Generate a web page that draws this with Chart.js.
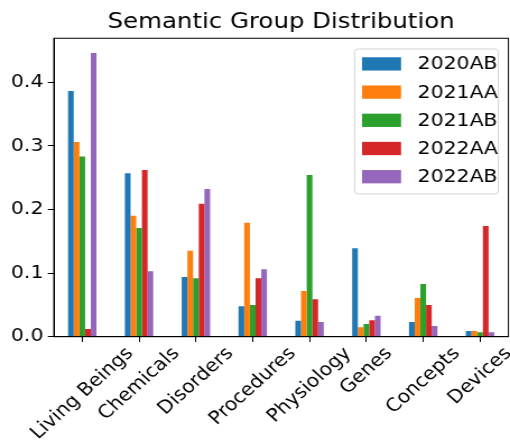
<!DOCTYPE html>
<html>
<head>
<meta charset="utf-8">
<script src="https://cdn.jsdelivr.net/npm/chart.js@4/dist/chart.umd.min.js"></script>
<style>
  html, body { margin: 0; padding: 0; background: #ffffff; overflow: hidden; }
  #wrap { width: 455px; height: 445px; position: relative; transform: scaleX(1.1209); transform-origin: 0 0; }
</style>
</head>
<body>
<div id="wrap"><canvas id="c"></canvas></div>
<script>
const categories = ["Living Beings", "Chemicals", "Disorders", "Procedures", "Physiology", "Genes", "Concepts", "Devices"];
const seriesNames = ["2020AB", "2021AA", "2021AB", "2022AA", "2022AB"];
const seriesColors = ["#1f77b4", "#ff7f0e", "#2ca02c", "#d62728", "#9467bd"];
const v2020AB = [0.386, 0.257, 0.094, 0.048, 0.025, 0.139, 0.023, 0.009];
const v2021AA = [0.306, 0.190, 0.135, 0.179, 0.072, 0.015, 0.061, 0.009];
const v2021AB = [0.283, 0.171, 0.092, 0.050, 0.254, 0.020, 0.083, 0.007];
const v2022AA = [0.012, 0.262, 0.209, 0.092, 0.059, 0.026, 0.050, 0.174];
const v2022AB = [0.446, 0.103, 0.232, 0.106, 0.023, 0.033, 0.017, 0.007];
const seriesValues = [v2020AB, v2021AA, v2021AB, v2022AA, v2022AB];
const yTicks = [0.0, 0.1, 0.2, 0.3, 0.4];
const yMax = 0.469;

const FONT = "'DejaVu Sans', sans-serif";
const LABEL_PX = 18.2;
const TICK_LEN = 5.3;

const extrasPlugin = {
  id: 'extras',
  afterDraw(chart) {
    const ctx = chart.ctx;
    const ca = chart.chartArea;
    const xs = chart.scales.x;
    ctx.save();
    // full frame (spines)
    ctx.strokeStyle = '#000000';
    ctx.lineWidth = 1.0;
    ctx.strokeRect(ca.left, ca.top, ca.right - ca.left, ca.bottom - ca.top);

    // rotated x labels, centred on their ticks
    ctx.font = LABEL_PX + 'px ' + FONT;
    ctx.fillStyle = '#000000';
    ctx.textAlign = 'center';
    ctx.textBaseline = 'middle';
    const yTop = ca.bottom + TICK_LEN + 2.5;
    const h = LABEL_PX * 0.97;
    categories.forEach((lab, i) => {
      const x = xs.getPixelForTick(i);
      const w = ctx.measureText(lab).width;
      const half = (w + h) / (2 * Math.SQRT2);
      ctx.save();
      ctx.translate(x, yTop + half);
      ctx.rotate(-Math.PI / 4);
      ctx.fillText(lab, 0, 0);
      ctx.restore();
    });

    // legend
    const boxRight = ca.right - 9;
    const boxTop = ca.top + 10.7;
    const boxW = 128.3;
    const boxH = 145;
    const boxLeft = boxRight - boxW;
    const r = 3;
    ctx.beginPath();
    ctx.moveTo(boxLeft + r, boxTop);
    ctx.lineTo(boxRight - r, boxTop);
    ctx.quadraticCurveTo(boxRight, boxTop, boxRight, boxTop + r);
    ctx.lineTo(boxRight, boxTop + boxH - r);
    ctx.quadraticCurveTo(boxRight, boxTop + boxH, boxRight - r, boxTop + boxH);
    ctx.lineTo(boxLeft + r, boxTop + boxH);
    ctx.quadraticCurveTo(boxLeft, boxTop + boxH, boxLeft, boxTop + boxH - r);
    ctx.lineTo(boxLeft, boxTop + r);
    ctx.quadraticCurveTo(boxLeft, boxTop, boxLeft + r, boxTop);
    ctx.closePath();
    ctx.fillStyle = 'rgba(255,255,255,0.8)';
    ctx.fill();
    ctx.strokeStyle = '#d4d4d4';
    ctx.lineWidth = 1;
    ctx.stroke();

    ctx.textAlign = 'left';
    ctx.textBaseline = 'middle';
    chart.data.datasets.forEach((ds, i) => {
      const py = boxTop + 8.3 + i * 28.2;
      ctx.fillStyle = ds.backgroundColor;
      ctx.fillRect(boxLeft + 6.7, py, 34.8, 13.3);
      ctx.fillStyle = '#000000';
      ctx.fillText(ds.label, boxLeft + 56.3, py + 7.4);
    });
    ctx.restore();
  }
};

new Chart(document.getElementById('c'), {
  type: 'bar',
  data: {
    labels: categories,
    datasets: seriesNames.map((name, i) => ({
      label: name,
      data: seriesValues[i],
      backgroundColor: seriesColors[i],
      borderWidth: 0,
      categoryPercentage: 0.5,
      barPercentage: 1.0
    }))
  },
  options: {
    responsive: true,
    maintainAspectRatio: false,
    animation: false,
    devicePixelRatio: 1,
    layout: { padding: { left: 5.8, right: 1.4, top: 0, bottom: 103 } },
    plugins: {
      legend: { display: false },
      tooltip: { enabled: false },
      title: {
        display: true,
        text: 'Semantic Group Distribution',
        fullSize: false,
        color: '#000000',
        font: { family: FONT, size: 21.8, weight: 'normal', lineHeight: 1.2 },
        padding: { top: 9.4, bottom: 2.7 }
      }
    },
    scales: {
      x: {
        offset: true,
        ticks: { display: false },
        grid: { display: true, drawOnChartArea: false, drawTicks: true, tickLength: TICK_LEN, offset: false, color: '#000000', lineWidth: 1.0 },
        border: { display: true, color: '#000000', width: 1.0 }
      },
      y: {
        min: 0,
        max: yMax,
        afterBuildTicks: (scale) => { scale.ticks = yTicks.map(v => ({ value: v })); },
        ticks: {
          color: '#000000',
          padding: 4,
          font: { family: FONT, size: LABEL_PX },
          callback: (v) => Number(v).toFixed(1)
        },
        grid: { display: true, drawOnChartArea: false, drawTicks: true, tickLength: TICK_LEN, color: '#000000', lineWidth: 1.0 },
        border: { display: true, color: '#000000', width: 1.0 }
      }
    }
  },
  plugins: [extrasPlugin]
});
</script>
</body>
</html>
